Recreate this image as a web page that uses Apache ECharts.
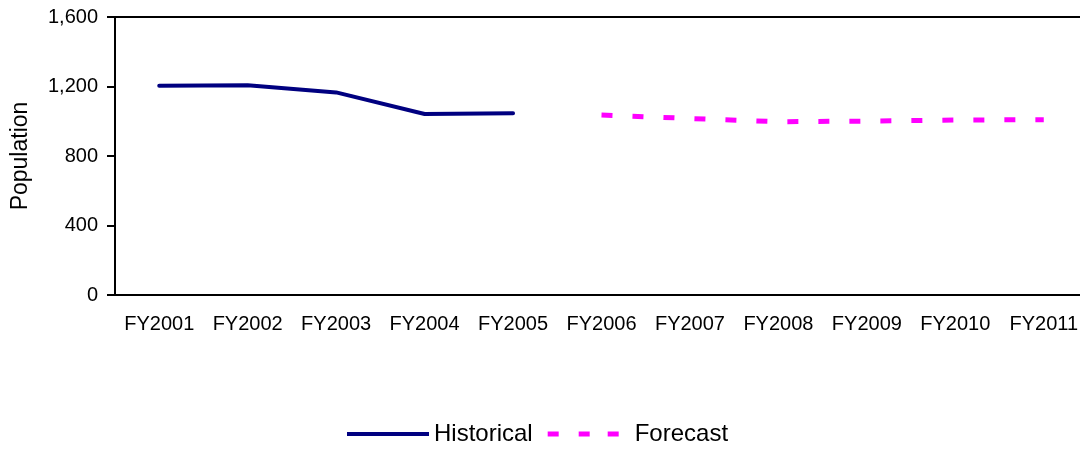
<!DOCTYPE html>
<html>
<head>
<meta charset="utf-8">
<style>
  html, body { margin: 0; padding: 0; background: #fff; }
  #chart { width: 1080px; height: 449px; }
</style>
<script src="https://cdn.jsdelivr.net/npm/echarts@6/dist/echarts.min.js"></script>
</head>
<body>
<div id="chart"></div>
<script>
// Fiscal years on the category axis
const years = ['FY2001', 'FY2002', 'FY2003', 'FY2004', 'FY2005', 'FY2006',
               'FY2007', 'FY2008', 'FY2009', 'FY2010', 'FY2011'];
// Recorded population (FY2001–FY2005)
const historical = [1205, 1207, 1166, 1042, 1046, null, null, null, null, null, null];
// Projected population (FY2006–FY2011)
const forecast = [null, null, null, null, null, 1036, 1016, 997, 1001, 1007, 1009];
// Population axis ticks
const yTicks = [0, 400, 800, 1200, 1600];

const FONT = "'Liberation Sans', Arial, sans-serif";
const NAVY = '#000080';
const MAGENTA = '#ff00ff';

// Legend swatches: a solid bar and three dashes, both 82px wide
const solidIcon = 'path://M0,0.5h82v4h-82z M0,0L0,0 M0,5L0,5';
const dashIcon = 'path://M0,0h11v5h-11z M31,0h11v5h-11z M60,0h11v5h-11z M82,0L82,0';

const chart = echarts.init(document.getElementById('chart'), null, { renderer: 'canvas' });

chart.setOption({
  animation: false,
  backgroundColor: '#ffffff',
  grid: {
    left: 115, top: 17, width: 973, height: 278,
    outerBoundsMode: 'none',
    containLabel: false,
    show: true, borderColor: '#000', borderWidth: 2, backgroundColor: 'transparent'
  },
  legend: {
    left: 347, top: 422, padding: 0,
    itemWidth: 82, itemHeight: 5, itemGap: 15,
    textStyle: { fontFamily: FONT, fontSize: 24, color: '#000' },
    data: [
      { name: 'Historical', icon: solidIcon, itemStyle: { color: NAVY, borderWidth: 0 } },
      { name: 'Forecast', icon: dashIcon, itemStyle: { color: MAGENTA, borderWidth: 0 } }
    ]
  },
  xAxis: {
    type: 'category',
    data: years,
    boundaryGap: true,
    axisLine: { lineStyle: { color: '#000', width: 2 } },
    axisTick: { show: false },
    axisLabel: { fontFamily: FONT, fontSize: 20, color: '#000', margin: 19, interval: 0 },
    splitLine: { show: false }
  },
  yAxis: {
    type: 'value',
    min: yTicks[0], max: yTicks[yTicks.length - 1], interval: yTicks[1] - yTicks[0],
    name: 'Population',
    nameLocation: 'middle',
    nameGap: 83,
    nameTextStyle: { fontFamily: FONT, fontSize: 23, color: '#000' },
    axisLine: { show: true, lineStyle: { color: '#000', width: 2 } },
    axisTick: { show: true, length: 8, lineStyle: { color: '#000', width: 2 } },
    axisLabel: {
      fontFamily: FONT, fontSize: 20, color: '#000', margin: 17,
      formatter: v => v.toLocaleString('en-US')
    },
    splitLine: { show: false }
  },
  series: [
    {
      name: 'Historical',
      type: 'line',
      data: historical,
      symbol: 'none',
      connectNulls: false,
      color: NAVY,
      lineStyle: { color: NAVY, width: 4, cap: 'round', join: 'round' }
    },
    {
      name: 'Forecast',
      type: 'line',
      data: forecast,
      symbol: 'none',
      connectNulls: false,
      color: MAGENTA,
      lineStyle: { color: MAGENTA, width: 5, type: [11, 20], cap: 'butt' }
    }
  ]
});
</script>
</body>
</html>
